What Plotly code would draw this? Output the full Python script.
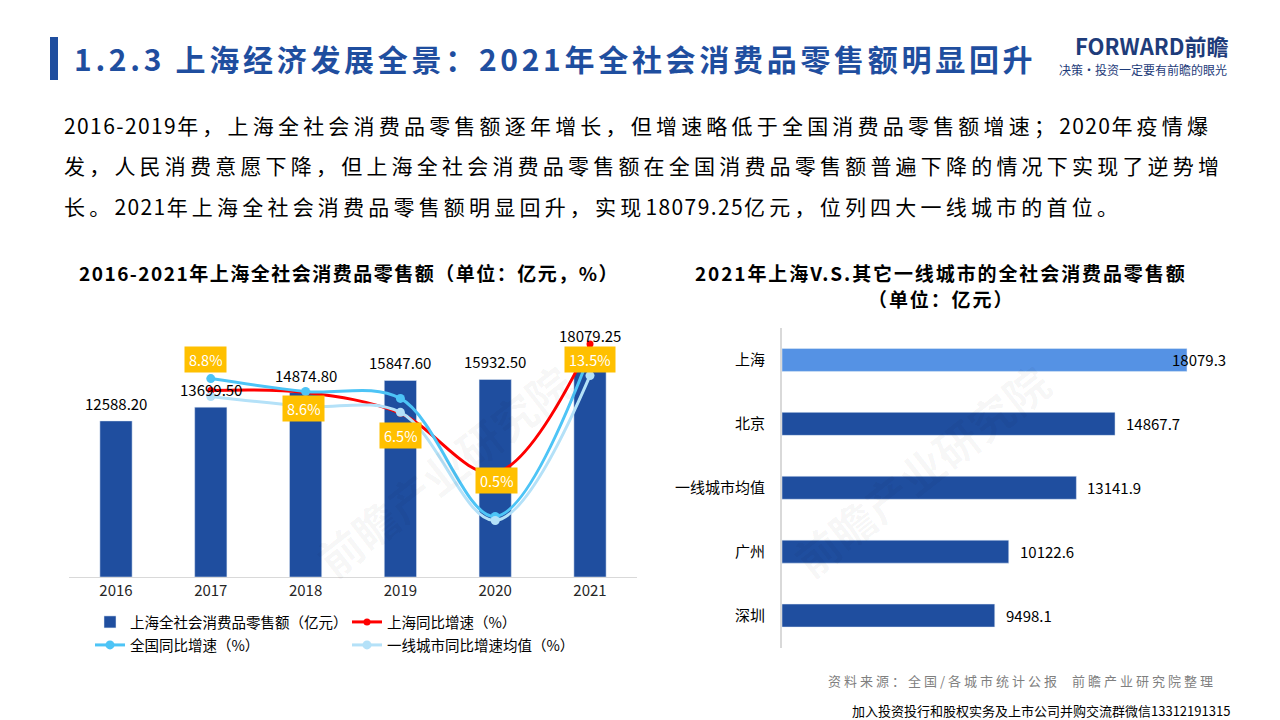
import re
import plotly.graph_objects as go

# ---------------- data ----------------
years = ['2016', '2017', '2018', '2019', '2020', '2021']
retail_sales = [12588.20, 13699.50, 14874.80, 15847.60, 15932.50, 18079.25]

growth_years = ['2017', '2018', '2019', '2020', '2021']
sh_growth = [8.8, 8.6, 6.5, 0.5, 13.5]
cn_growth = [10.0, 8.7, 8.0, -3.9, 12.5]
tier1_growth = [8.2, 7.2, 6.6, -4.3, 10.3]

cities = ['上海', '北京', '一线城市均值', '广州', '深圳']
city_sales = [18079.3, 14867.7, 13141.9, 10122.6, 9498.1]

# ---------------- style ----------------
W, H = 1280, 720
FONT = 'Noto Sans CJK SC'
DARK = '#1F4E9F'
LIGHTBAR = '#5592E4'
RED = '#FF0000'
BLUE = '#4DC4F6'
LBLUE = '#B4E1F8'
YELLOW = '#FFC000'
TITLE_BLUE = '#1F4E9F'


def px(x):
    return x / W


def py(y):
    return 1 - y / H


def spaced(text, wide_sp, narrow_sp):
    """Wrap runs of ASCII / CJK characters in spans with different letter spacing."""
    parts = re.findall(r'[\x00-\x7f]+|[^\x00-\x7f]+', text)
    out = []
    for p in parts:
        sp = narrow_sp if ord(p[0]) < 128 else wide_sp
        out.append(f'<span style="letter-spacing:{sp}px">{p}</span>')
    return ''.join(out)


fig = go.Figure()

fig.add_trace(go.Bar(
    x=years, y=retail_sales, name='上海全社会消费品零售额（亿元）',
    marker=dict(color=DARK), width=0.34, xaxis='x', yaxis='y', legend='legend'))
fig.add_trace(go.Scatter(
    x=growth_years, y=sh_growth, name='上海同比增速（%）', mode='lines+markers',
    line=dict(color=RED, width=3, shape='spline', smoothing=1),
    marker=dict(size=7, color=RED), xaxis='x', yaxis='y2', cliponaxis=False,
    legend='legend'))
fig.add_trace(go.Scatter(
    x=growth_years, y=cn_growth, name='全国同比增速（%）', mode='lines+markers',
    line=dict(color=BLUE, width=3, shape='spline', smoothing=1),
    marker=dict(size=9, color=BLUE), xaxis='x', yaxis='y2', cliponaxis=False,
    legend='legend2'))
fig.add_trace(go.Scatter(
    x=growth_years, y=tier1_growth, name='一线城市同比增速均值（%）', mode='lines+markers',
    line=dict(color=LBLUE, width=3, shape='spline', smoothing=1),
    marker=dict(size=9, color=LBLUE), xaxis='x', yaxis='y2', cliponaxis=False,
    legend='legend2'))

fig.add_trace(go.Bar(
    x=city_sales, y=cities, orientation='h', width=0.36,
    marker=dict(color=[LIGHTBAR if c == '上海' else DARK for c in cities]),
    xaxis='x3', yaxis='y3', showlegend=False))

annotations = []

# bar value labels (left chart) -- category index positions
for i, v in enumerate(retail_sales):
    annotations.append(dict(
        x=i, y=v, xref='x', yref='y', text=f'{v:.2f}', showarrow=False,
        yanchor='bottom', yshift=5, font=dict(family=FONT, size=15, color='#000000')))

# yellow growth labels (Shanghai)
label_xshift = [-5, -2, 0, 1, 0]
label_yshift = [31, -16, -22, -8, -16]
for yr, v, dx, dy in zip(growth_years, sh_growth, label_xshift, label_yshift):
    idx = years.index(yr)
    annotations.append(dict(
        x=idx, y=v, xref='x', yref='y2', text=f'{v:.1f}%', showarrow=False,
        bgcolor=YELLOW, height=17, borderpad=4,
        xshift=dx, yshift=dy, font=dict(family=FONT, size=14.5, color='#FFFFFF')))

# right chart value labels
city_xshift = [-17, 9, 9, 9, 9]
for i, (v, dx) in enumerate(zip(city_sales, city_xshift)):
    annotations.append(dict(
        x=v, y=i, xref='x3', yref='y3', text=f'{v:.1f}', showarrow=False,
        xanchor='left', xshift=dx, font=dict(family=FONT, size=15, color='#000000')))

# watermarks
for wx, wy in [(300, 470), (1065, 470)]:
    annotations.append(dict(
        x=px(wx), y=py(wy), xref='paper', yref='paper', text='前瞻产业研究院',
        showarrow=False, textangle=-38,
        font=dict(family=FONT, size=44, color='rgba(0,0,0,0.035)', weight='bold')))

# titles and texts
annotations += [
    dict(x=px(72), y=py(58), xref='paper', yref='paper', xanchor='left', yanchor='middle',
         showarrow=False,
         text='<span style="letter-spacing:3.7px">1.2.3 上海经济发展全景：2021年全社会消费品零售额明显回升</span>',
         font=dict(family=FONT, size=30, color=TITLE_BLUE, weight='bold')),
    dict(x=px(1231), y=py(45), xref='paper', yref='paper', xanchor='right', yanchor='middle',
         showarrow=False, text='FORWARD前瞻',
         font=dict(family=FONT, size=22, color='#1E3C7A', weight='bold')),
    dict(x=px(1229), y=py(69), xref='paper', yref='paper', xanchor='right', yanchor='middle',
         showarrow=False, text='决策·投资一定要有前瞻的眼光',
         font=dict(family=FONT, size=12, color='#1E3C7A')),
]

para = [
    '2016-2019年，上海全社会消费品零售额逐年增长，但增速略低于全国消费品零售额增速；2020年疫情爆',
    '发，人民消费意愿下降，但上海全社会消费品零售额在全国消费品零售额普遍下降的情况下实现了逆势增',
    '长。2021年上海全社会消费品零售额明显回升，实现18079.25亿元，位列四大一线城市的首位。',
]
for line, yy in zip(para, [125, 165, 206]):
    annotations.append(dict(
        x=px(62), y=py(yy), xref='paper', yref='paper', xanchor='left', yanchor='middle',
        showarrow=False, text=spaced(line, 4.2, 1.4),
        font=dict(family=FONT, size=21, color='#000000')))

annotations += [
    dict(x=px(349), y=py(272), xref='paper', yref='paper', xanchor='center', yanchor='middle',
         showarrow=False,
         text='<span style="letter-spacing:1.5px">2016-2021年上海全社会消费品零售额（单位：亿元，%）</span>',
         font=dict(family=FONT, size=19, color='#000000', weight='bold')),
    dict(x=px(941), y=py(272), xref='paper', yref='paper', xanchor='center', yanchor='middle',
         showarrow=False,
         text='<span style="letter-spacing:1.9px">2021年上海V.S.其它一线城市的全社会消费品零售额</span>',
         font=dict(family=FONT, size=19, color='#000000', weight='bold')),
    dict(x=px(941), y=py(298), xref='paper', yref='paper', xanchor='center', yanchor='middle',
         showarrow=False,
         text='<span style="letter-spacing:1.9px">（单位：亿元）</span>',
         font=dict(family=FONT, size=19, color='#000000', weight='bold')),
    dict(x=px(1218), y=py(680), xref='paper', yref='paper', xanchor='right', yanchor='middle',
         showarrow=False,
         text='<span style="letter-spacing:3px">资料来源：全国/各城市统计公报  前瞻产业研究院整理</span>',
         font=dict(family=FONT, size=13, color='#7F7F7F')),
    dict(x=px(1232), y=py(710), xref='paper', yref='paper', xanchor='right', yanchor='middle',
         showarrow=False,
         text='加入投资投行和股权实务及上市公司并购交流群微信13312191315',
         font=dict(family=FONT, size=13, color='#000000')),
]

shapes = [
    dict(type='rect', xref='paper', yref='paper', x0=px(50), x1=px(58), y0=py(80), y1=py(37),
         fillcolor=TITLE_BLUE, line=dict(width=0)),
]

fig.update_layout(
    width=W, height=H, margin=dict(l=0, r=0, t=0, b=0),
    paper_bgcolor='white', plot_bgcolor='rgba(0,0,0,0)',
    font=dict(family=FONT, color='#000000'),
    barmode='overlay',
    xaxis=dict(domain=[px(68.6), px(637.4)], type='category', categoryorder='array',
               categoryarray=years, range=[-0.5, 5.5], showline=True, linecolor='#D9D9D9',
               linewidth=1, ticks='', showgrid=False, zeroline=False, anchor='y',
               tickfont=dict(family=FONT, size=15, color='#262626'), fixedrange=True),
    yaxis=dict(domain=[py(577), py(329)], range=[0, 20000], visible=False, anchor='x'),
    yaxis2=dict(overlaying='y', range=[-10, 15], visible=False, anchor='x'),
    xaxis3=dict(domain=[px(782), px(1230)], range=[0, 20000], visible=False, anchor='y3'),
    yaxis3=dict(domain=[py(647.5), py(328)], type='category', categoryorder='array',
                categoryarray=cities, range=[4.5, -0.5], showline=True, linecolor='#D9D9D9',
                linewidth=2, ticks='', ticklabelstandoff=12, showgrid=False, anchor='x3',
                tickfont=dict(family=FONT, size=15, color='#000000')),
    legend=dict(orientation='h', x=px(90), xanchor='left', y=py(606), yanchor='top',
                entrywidth=212, entrywidthmode='pixels', itemwidth=30,
                font=dict(family=FONT, size=14.5, color='#000000'),
                bgcolor='rgba(0,0,0,0)', traceorder='normal'),
    legend2=dict(orientation='h', x=px(90), xanchor='left', y=py(629), yanchor='top',
                 entrywidth=212, entrywidthmode='pixels', itemwidth=30,
                 font=dict(family=FONT, size=14.5, color='#000000'),
                 bgcolor='rgba(0,0,0,0)', traceorder='normal'),
    annotations=annotations,
    shapes=shapes,
    showlegend=True,
)

fig.write_html('out.html')
